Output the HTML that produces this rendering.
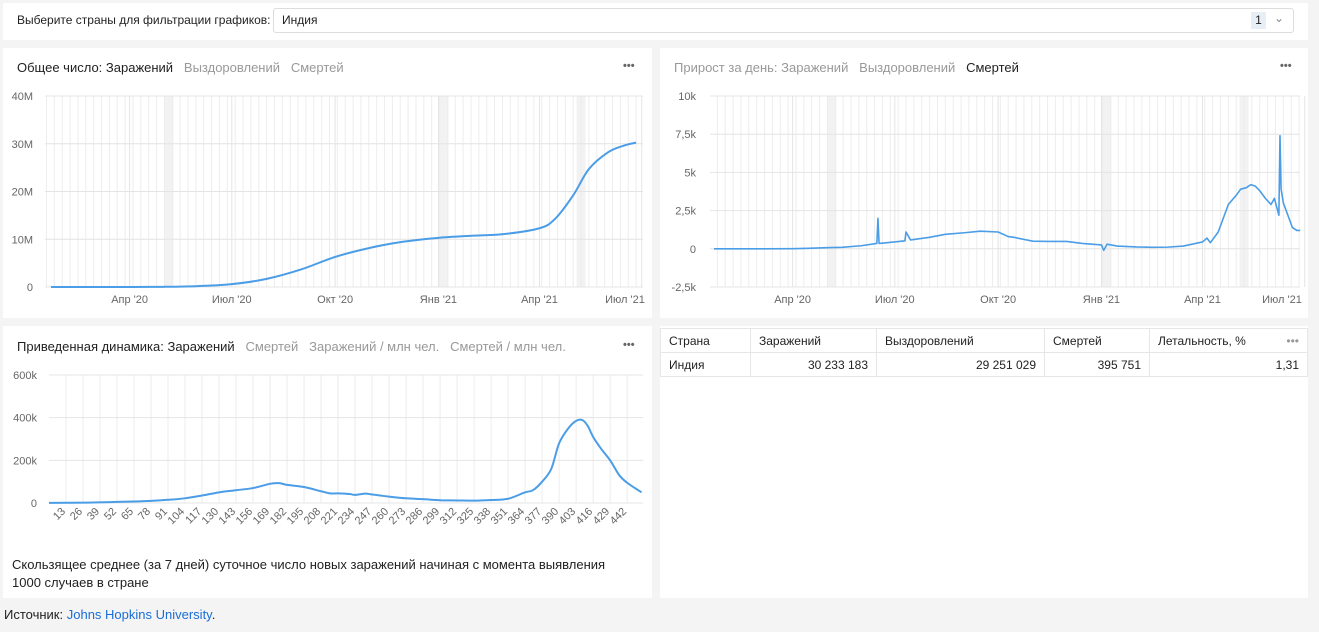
<!DOCTYPE html>
<html><head><meta charset="utf-8">
<style>
*{box-sizing:border-box;margin:0;padding:0}
body{width:1319px;height:632px;background:#f4f4f4;font-family:"Liberation Sans",sans-serif;position:relative;overflow:hidden;color:#222}
.panel{position:absolute;background:#fff}
.t{position:absolute;font-size:13px;white-space:nowrap}
.g{color:#999}
.dots{position:absolute;font-size:11px;color:#666;letter-spacing:0px;font-weight:bold}
svg{position:absolute;left:0;top:0}
table{position:absolute;left:660px;top:328px;width:648px;border-collapse:collapse;font-size:12px}
td{border:1px solid #e6e6e6;height:24px;padding:0 8px}
</style></head><body>
<div class="panel" style="left:3px;top:3px;width:1305px;height:37px"></div>
<div class="t" style="left:17px;top:13px;font-size:12px">Выберите страны для фильтрации графиков:</div>
<div style="position:absolute;left:273px;top:8px;width:1021px;height:25px;border:1px solid #ddd;border-radius:3px;background:#fff">
<span style="position:absolute;left:8px;top:4px;font-size:12px">Индия</span>
<span style="position:absolute;left:977px;top:3px;width:15px;height:17px;background:#e8eef6;font-size:12px;text-align:center;line-height:17px">1</span>
<span style="position:absolute;left:1000px;top:2px;font-size:12px;color:#888">&#8964;</span>
</div>

<div class="panel" style="left:3px;top:48px;width:649px;height:270px"></div>
<div class="panel" style="left:660px;top:48px;width:648px;height:270px"></div>
<div class="panel" style="left:3px;top:326px;width:649px;height:272px"></div>
<div class="panel" style="left:660px;top:326px;width:648px;height:272px"></div>

<div class="t" style="left:17px;top:60px"><span>Общее число: Заражений</span> &nbsp;&nbsp;<span class="g">Выздоровлений</span> &nbsp;&nbsp;<span class="g">Смертей</span></div>
<div class="dots" style="left:623px;top:60px">•••</div>
<div class="t" style="left:674px;top:60px"><span class="g">Прирост за день: Заражений</span> &nbsp;&nbsp;<span class="g">Выздоровлений</span> &nbsp;&nbsp;<span>Смертей</span></div>
<div class="dots" style="left:1280px;top:60px">•••</div>
<div class="t" style="left:17px;top:339px"><span>Приведенная динамика: Заражений</span> &nbsp;&nbsp;<span class="g">Смертей</span> &nbsp;&nbsp;<span class="g">Заражений / млн чел.</span> &nbsp;&nbsp;<span class="g">Смертей / млн чел.</span></div>
<div class="dots" style="left:623px;top:339px">•••</div>

<table>
<tr><td style="width:90px">Страна</td><td style="width:126px">Заражений</td><td style="width:168px">Выздоровлений</td><td style="width:105px">Смертей</td><td>Летальность, % <span style="float:right;color:#999">•••</span></td></tr>
<tr><td>Индия</td><td style="text-align:right">30 233 183</td><td style="text-align:right">29 251 029</td><td style="text-align:right">395 751</td><td style="text-align:right">1,31</td></tr>
</table>

<div class="t" style="left:12px;top:556px;line-height:18px">Скользящее среднее (за 7 дней) суточное число новых заражений начиная с момента выявления<br>1000 случаев в стране</div>
<div class="t" style="left:4px;top:607px">Источник: <span style="color:#1a6dd6">Johns Hopkins University</span>.</div>

<svg id="sv" width="1319" height="632"></svg>
<script>
// chart 1: cumulative cases (millions)
const totalDates=["2020-01-22","2020-03-15","2020-04-01","2020-05-01","2020-06-01","2020-07-01","2020-08-01","2020-09-01","2020-10-01","2020-11-01","2020-12-01","2021-01-01","2021-02-01","2021-03-01","2021-04-01","2021-04-15","2021-05-01","2021-05-15","2021-06-01","2021-06-15","2021-06-26"];
const totalValues=[0,0,0.002,0.035,0.19,0.6,1.7,3.7,6.3,8.2,9.5,10.3,10.75,11.1,12.3,14.3,19.2,24.7,28.2,29.6,30.23];
const totalTicks=["0","10M","20M","30M","40M"];
// chart 2: daily deaths
const dailyDates=["2020-01-22","2020-03-01","2020-04-01","2020-04-15","2020-05-01","2020-05-15","2020-06-01","2020-06-15","2020-06-16","2020-06-17","2020-07-01","2020-07-10","2020-07-11","2020-07-15","2020-08-01","2020-08-15","2020-09-01","2020-09-15","2020-10-01","2020-10-10","2020-10-15","2020-11-01","2020-11-15","2020-12-01","2020-12-15","2021-01-01","2021-01-03","2021-01-06","2021-01-15","2021-02-01","2021-02-15","2021-03-01","2021-03-15","2021-04-01","2021-04-05","2021-04-08","2021-04-15","2021-04-24","2021-05-01","2021-05-05","2021-05-10","2021-05-14","2021-05-18","2021-05-22","2021-05-27","2021-06-01","2021-06-04","2021-06-08","2021-06-09","2021-06-10","2021-06-12","2021-06-15","2021-06-20","2021-06-24","2021-06-27"];
const dailyValues=[0,0,5,30,70,100,200,350,2000,350,450,520,1100,580,750,950,1050,1150,1100,800,750,500,480,480,350,250,-100,300,180,120,100,110,180,450,700,400,1100,2900,3500,3900,4000,4200,4100,3800,3300,2900,3300,2200,7400,3900,3000,2400,1400,1200,1200];
const dailyTicks=["-2,5k","0","2,5k","5k","7,5k","10k"];
// chart 3: 7-day avg new cases since 1000 cases (thousands)
const dynDays=[0,30,52,65,78,91,104,117,130,143,156,169,176,182,195,208,215,221,230,234,242,247,260,273,286,299,312,325,338,351,364,370,377,384,390,397,403,408,412,416,422,429,436,442,453];
const dynValues=[0.5,2,5,7,10,15,22,35,50,60,70,90,93,85,75,55,45,45,42,38,44,40,30,22,18,13,12,11,14,20,50,60,100,160,280,350,385,388,360,310,255,200,130,95,50];
const dynTicks=["0","200k","400k","600k"];
const dynLabels=[13,26,39,52,65,78,91,104,117,130,143,156,169,182,195,208,221,234,247,260,273,286,299,312,325,338,351,364,377,390,403,416,429,442];

const sv=document.getElementById('sv');const NS='http://www.w3.org/2000/svg';
function mk(tag,at,txt){const e=document.createElementNS(NS,tag);for(const k in at)e.setAttribute(k,at[k]);if(txt!==undefined)e.textContent=txt;sv.appendChild(e);return e;}
const D0=Date.UTC(2020,0,22);
function dayOf(s){const p=s.split('-');return (Date.UTC(+p[0],+p[1]-1,+p[2])-D0)/864e5;}
const PXD=1.123;
function smooth(pts){let d='M'+pts[0][0]+','+pts[0][1];for(let i=0;i<pts.length-1;i++){const p0=pts[Math.max(i-1,0)],p1=pts[i],p2=pts[i+1],p3=pts[Math.min(i+2,pts.length-1)];const c1x=p1[0]+(p2[0]-p0[0])/6,c1y=p1[1]+(p2[1]-p0[1])/6,c2x=p2[0]-(p3[0]-p1[0])/6,c2y=p2[1]-(p3[1]-p1[1])/6;d+=` C${c1x},${c1y} ${c2x},${c2y} ${p2[0]},${p2[1]}`;}return d;}
function timeGrid(x0,left,right,top,bottom,axisY,prefix){
  [[101,8],[346,8],[468,8]].forEach(b=>{const r=mk('rect',{x:x0+b[0]*PXD,y:top,width:b[1]*PXD,height:bottom-top,fill:'#f2f2f2'});});
  for(let d=-4;d*PXD+x0<right;d+=7){const x=x0+d*PXD;if(x<left)continue;const l=mk('line',{x1:x,x2:x,y1:top,y2:bottom,stroke:'#ededed','stroke-width':1});}
  const months=[["Апр '20","2020-04-01"],["Июл '20","2020-07-01"],["Окт '20","2020-10-01"],["Янв '21","2021-01-01"],["Апр '21","2021-04-01"],["Июл '21","2021-07-01"]];
  months.forEach(m=>{let x=x0+dayOf(m[1])*PXD;mk('line',{x1:x,x2:x,y1:top,y2:bottom,stroke:'#e4e4e4'});let tx=Math.min(x,right-18);const t=mk('text',{x:tx,y:axisY,'font-size':11,fill:'#666','text-anchor':'middle','font-family':'Liberation Sans'},m[0]);});
}
// chart 1
(function(){const x0=51,left=45,right=643,yb=287,yt=96;const ys=v=>yb-(v/40)*(yb-yt);
timeGrid(x0,left,right,yt,yb,303,'total');
totalTicks.forEach((t,i)=>{const y=ys(i*10);mk('line',{x1:left,x2:right,y1:y,y2:y,stroke:'#e4e4e4'});const e=mk('text',{x:33,y:y+4,'font-size':11,fill:'#666','text-anchor':'end','font-family':'Liberation Sans'},t);});
const pts=totalDates.map((d,i)=>[x0+dayOf(d)*PXD,ys(totalValues[i])]);
const p=mk('path',{d:smooth(pts),fill:'none',stroke:'#4a9de6','stroke-width':2});})();
// chart 2
(function(){const x0=714,left=710,right=1300,yb=287,yt=96;const ys=v=>yb-((v+2500)/12500)*(yb-yt);
timeGrid(x0,left,right,yt,yb,303,'daily');
dailyTicks.forEach((t,i)=>{const y=ys(-2500+i*2500);mk('line',{x1:left,x2:right,y1:y,y2:y,stroke:'#e4e4e4'});const e=mk('text',{x:696,y:y+4,'font-size':11,fill:'#666','text-anchor':'end','font-family':'Liberation Sans'},t);});
const pts=dailyDates.map((d,i)=>(x0+dayOf(d)*PXD)+','+ys(dailyValues[i]));
const p=mk('polyline',{points:pts.join(' '),fill:'none',stroke:'#4a9de6','stroke-width':1.6,'stroke-linejoin':'round'});})();
// chart 3
(function(){const x0=49,pxd=1.308,left=49,right=643,yb=503,yt=375;const ys=v=>yb-(v/600)*(yb-yt);
dynLabels.forEach(d=>{const x=x0+d*pxd;mk('line',{x1:x,x2:x,y1:yt,y2:yb,stroke:'#ececec'});const t=mk('text',{x:x,y:512,'font-size':11,fill:'#666','text-anchor':'end','font-family':'Liberation Sans',transform:`rotate(-45 ${x} 512)`},String(d));});
dynTicks.forEach((t,i)=>{const y=ys(i*200);mk('line',{x1:left,x2:right,y1:y,y2:y,stroke:'#e4e4e4'});const e=mk('text',{x:37,y:y+4,'font-size':11,fill:'#666','text-anchor':'end','font-family':'Liberation Sans'},t);});
const pts=dynDays.map((d,i)=>[x0+d*pxd,ys(dynValues[i])]);
const p=mk('path',{d:smooth(pts),fill:'none',stroke:'#4a9de6','stroke-width':2});})();
</script>
</body></html>
